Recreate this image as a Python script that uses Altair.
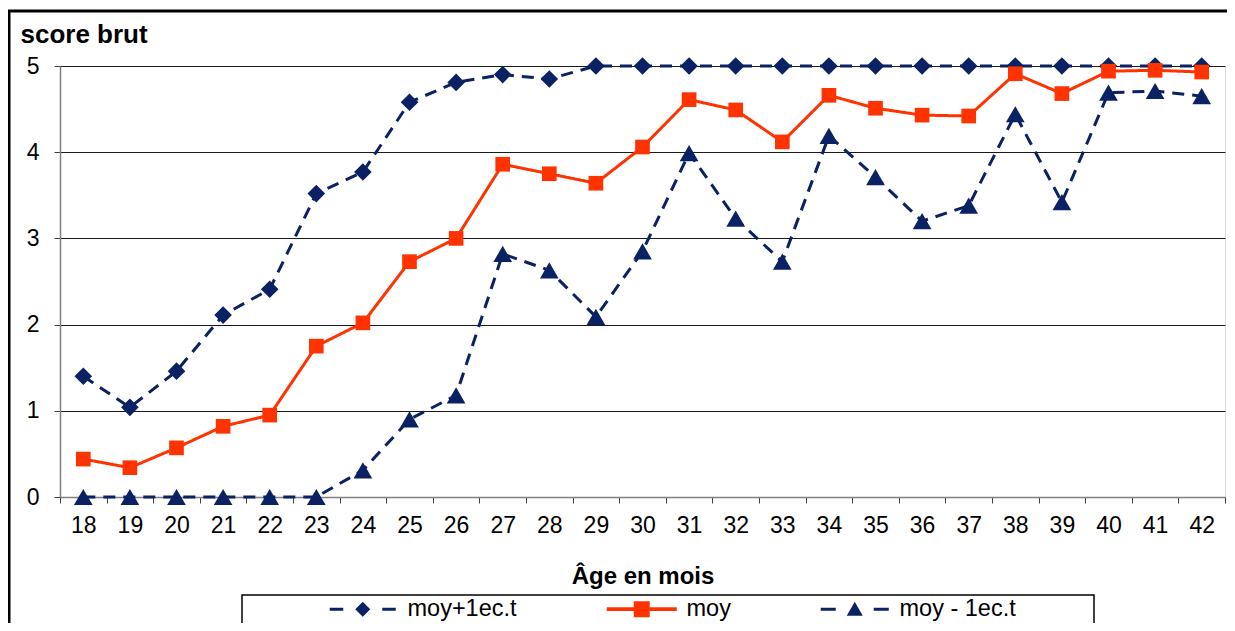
import altair as alt
import pandas as pd

# ---- data ----
ages = [18, 19, 20, 21, 22, 23, 24, 25, 26, 27, 28, 29, 30, 31, 32, 33, 34, 35, 36, 37, 38, 39, 40, 41, 42]
moy_plus = [1.40, 1.04, 1.46, 2.11, 2.41, 3.52, 3.77, 4.58, 4.81, 4.90, 4.85, 5.00, 5.00, 5.00, 5.00,
            5.00, 5.00, 5.00, 5.00, 5.00, 5.00, 5.00, 5.00, 5.00, 5.00]
moy = [0.44, 0.34, 0.57, 0.82, 0.95, 1.75, 2.02, 2.73, 3.00, 3.86, 3.75, 3.64, 4.06, 4.61, 4.49,
       4.12, 4.66, 4.51, 4.43, 4.42, 4.91, 4.68, 4.94, 4.95, 4.93]
moy_minus = [0.00, 0.00, 0.00, 0.00, 0.00, 0.00, 0.31, 0.90, 1.18, 2.82, 2.63, 2.09, 2.85, 3.99, 3.23,
             2.73, 4.19, 3.71, 3.20, 3.38, 4.44, 3.42, 4.69, 4.71, 4.65]
series_names = ["moy+1ec.t", "moy", "moy - 1ec.t"]
y_ticks = [0, 1, 2, 3, 4, 5]

NAVY = "#0a2163"
ORANGE = "#ff3300"
FONT = "Liberation Sans"

rows = []
for name, vals in zip(series_names, [moy_plus, moy, moy_minus]):
    for a, v in zip(ages, vals):
        rows.append({"age": a, "score": v, "serie": name})
df = pd.DataFrame(rows)

styles = {
    "moy+1ec.t": dict(color=NAVY, dash=[12, 8], shape="diamond", size=310),
    "moy": dict(color=ORANGE, dash=[1, 0], shape="square", size=215),
    "moy - 1ec.t": dict(color=NAVY, dash=[12, 8], shape="triangle-up", size=350),
}

# legend symbols: line segment(s) + marker, as custom paths
legend_paths = [
    "M-3.3,-0.15H-1.95V0.15H-3.3Z M-0.75,0L0,-0.75L0.75,0L0,0.75Z M1.95,-0.15H3.3V0.15H1.95Z",
    "M-3.5,-0.18H3.5V0.18H-3.5Z M-0.8,-0.8H0.8V0.8H-0.8Z",
    "M-3.4,-0.15H-1.9V0.15H-3.4Z M-0.8,0.65L0,-0.75L0.8,0.65Z M1.9,-0.15H3.4V0.15H1.9Z",
]

x_enc = alt.X(
    "age:O",
    bandPosition=0.5,
    scale=alt.Scale(type="band", paddingInner=0, paddingOuter=0),
    axis=alt.Axis(
        title="Âge en mois", labelAngle=0, tickBand="extent", grid=False,
        labelFontSize=23, labelColor="black", labelPadding=11, labelFont=FONT,
        tickSize=6, tickColor="#404040", domainColor="#808080", domainWidth=1.5,
        titleFontSize=24, titleFontWeight="bold", titleFont=FONT, titleColor="black",
        titleY=86, titleBaseline="alphabetic",
    ),
)
y_enc = alt.Y(
    "score:Q",
    scale=alt.Scale(domain=[0, 5], nice=False, zero=True),
    axis=alt.Axis(
        values=y_ticks, title="score brut", titleAngle=0, titleX=-40, titleY=-24,
        titleAlign="left", titleBaseline="alphabetic", titleFontSize=26,
        titleFontWeight="bold", titleFont=FONT, titleColor="black",
        labelFontSize=23, labelColor="black", labelPadding=15, labelFont=FONT,
        tickSize=6, tickColor="#404040", domainColor="#808080", domainWidth=1.5,
        grid=True, gridColor="#1a1a1a", gridWidth=1,
    ),
)

def line_layer(name):
    s = styles[name]
    return alt.Chart(df).transform_filter(alt.datum.serie == name).mark_line(
        color=s["color"], strokeDash=s["dash"], strokeWidth=3
    ).encode(x=x_enc, y=y_enc)

def point_layer(name):
    s = styles[name]
    return alt.Chart(df).transform_filter(alt.datum.serie == name).mark_point(
        shape=s["shape"], size=s["size"], filled=True, opacity=1, color=s["color"], strokeWidth=0
    ).encode(x=x_enc, y=y_enc)

leg = alt.Legend(
    orient="none", legendX=291, legendY=531, direction="horizontal", title=None,
    labelFontSize=23.5, labelFont=FONT, labelColor="black", symbolSize=400,
    symbolStrokeWidth=0, labelOffset=33, columnPadding=89, padding=0, labelLimit=300,
)
legend_layer = alt.Chart(df).transform_filter("false").mark_point(filled=True, opacity=1).encode(
    x=x_enc, y=y_enc,
    color=alt.Color("serie:N", scale=alt.Scale(domain=series_names, range=[NAVY, ORANGE, NAVY]), legend=leg),
    shape=alt.Shape("serie:N", scale=alt.Scale(domain=series_names, range=legend_paths), legend=leg),
)

one = pd.DataFrame({"k": [0]})
frame = alt.Chart(one).mark_rect(fillOpacity=0, stroke="black", strokeWidth=3).encode(
    x=alt.value(-51), x2=alt.value(1215), y=alt.value(-55), y2=alt.value(700)
)
legend_box = alt.Chart(one).mark_rect(fillOpacity=0, stroke="black", strokeWidth=1.5).encode(
    x=alt.value(182), x2=alt.value(1034), y=alt.value(529), y2=alt.value(700)
)

chart = alt.layer(
    frame,
    legend_box,
    line_layer("moy+1ec.t"),
    line_layer("moy - 1ec.t"),
    point_layer("moy+1ec.t"),
    point_layer("moy - 1ec.t"),
    line_layer("moy"),
    point_layer("moy"),
    legend_layer,
).properties(
    width=1165, height=431,
    autosize=alt.AutoSizeParams(type="none"),
    padding={"left": 52, "top": 58, "right": 2, "bottom": 126},
    background="white",
).configure_view(stroke="#808080", strokeWidth=1.5).configure(font=FONT)

chart.save("out.html", embed_options={"renderer": "svg", "actions": False})
